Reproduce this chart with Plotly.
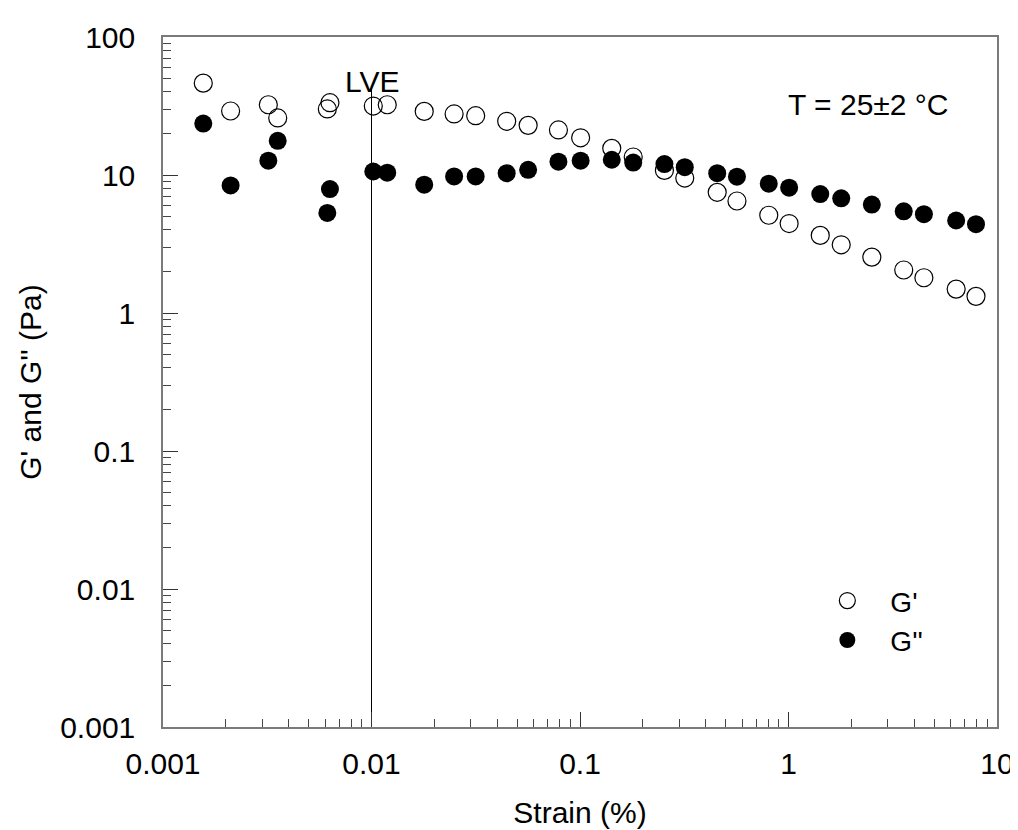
import math
import plotly.graph_objects as go

# Strain (%) values (shared by both moduli)
strain = [0.00156, 0.00211, 0.0032, 0.00355, 0.00614, 0.00632, 0.0102, 0.0119,
          0.0179, 0.0249, 0.0316, 0.0445, 0.0564, 0.0788, 0.1007, 0.142,
          0.180, 0.254, 0.318, 0.455, 0.566, 0.804, 1.007, 1.42,
          1.79, 2.51, 3.57, 4.46, 6.37, 7.93]

# Storage modulus G' (Pa)
g_storage = [46.3, 29.1, 32.3, 25.9, 30.1, 33.4, 31.6, 32.3,
             28.9, 27.7, 26.9, 24.5, 22.9, 21.2, 18.6, 15.6,
             13.5, 10.8, 9.5, 7.49, 6.48, 5.11, 4.45, 3.65,
             3.12, 2.54, 2.05, 1.80, 1.49, 1.32]

# Loss modulus G'' (Pa)
g_loss = [23.6, 8.41, 12.7, 17.7, 5.31, 7.91, 10.6, 10.4,
          8.51, 9.77, 9.77, 10.3, 10.9, 12.5, 12.7, 12.9,
          12.3, 12.0, 11.4, 10.3, 9.72, 8.65, 8.10, 7.28,
          6.78, 6.10, 5.46, 5.20, 4.68, 4.40]

# LVE marker line
lve_strain = [0.01, 0.01]
lve_modulus = [0.001, 44]

x_tickvals = [0.001, 0.01, 0.1, 1, 10]
x_ticktext = ["0.001", "0.01", "0.1", "1", "10"]
y_tickvals = [0.001, 0.01, 0.1, 1, 10, 100]
y_ticktext = ["0.001", "0.01", "0.1", "1", "10", "100"]

FONT = "Liberation Sans, Arial, sans-serif"
FS = 30

fig = go.Figure()

fig.add_trace(go.Scatter(
    x=lve_strain, y=lve_modulus, mode="lines",
    line=dict(color="black", width=1), showlegend=False, hoverinfo="skip"))

fig.add_trace(go.Scatter(
    x=strain, y=g_storage, mode="markers", name="G'",
    marker=dict(symbol="circle-open", size=18, color="black",
                line=dict(color="black", width=1.2))))

fig.add_trace(go.Scatter(
    x=strain, y=g_loss, mode="markers", name="G''",
    marker=dict(symbol="circle", size=18, color="black",
                line=dict(color="black", width=0))))

axis_common = dict(
    type="log", showgrid=False, zeroline=False,
    showline=True, linecolor="#7a7a7a", linewidth=1.5, mirror=True,
    ticks="inside", ticklen=15, tickwidth=1, tickcolor="#333333",
    minor=dict(ticks="inside", ticklen=8, tickwidth=1, tickcolor="#444444",
               dtick="D1", showgrid=False),
    tickfont=dict(family=FONT, size=FS, color="black"),
)

fig.update_xaxes(
    **axis_common,
    range=[-3, 1],
    tickvals=x_tickvals, ticktext=x_ticktext,
    ticklabelstandoff=9,
    title=dict(text="Strain (%)", font=dict(family=FONT, size=FS, color="black"),
               standoff=23),
)
fig.update_yaxes(
    **axis_common,
    range=[-3, 2],
    tickvals=y_tickvals, ticktext=y_ticktext,
    ticklabelstandoff=20,
    title=dict(text="G' and G'' (Pa)", font=dict(family=FONT, size=FS, color="black"),
               standoff=10),
)

fig.add_annotation(x=math.log10(0.01), y=0.962, xref="x", yref="paper",
                   text="LVE", showarrow=False,
                   font=dict(family=FONT, size=FS, color="black"))
fig.add_annotation(x=0.945, y=0.929, xref="paper", yref="paper",
                   text="T = 25±2 °C", showarrow=False, xanchor="right",
                   font=dict(family=FONT, size=FS, color="black"))

fig.update_layout(
    width=1018, height=830,
    margin=dict(l=155, r=24, t=26, b=111),
    paper_bgcolor="white", plot_bgcolor="white",
    font=dict(family=FONT, color="black"),
    legend=dict(x=0.769, y=0.219, xanchor="left", yanchor="top",
                bgcolor="rgba(0,0,0,0)", itemwidth=76,
                font=dict(family=FONT, size=28, color="black")),
)

fig.write_html("out.html")
